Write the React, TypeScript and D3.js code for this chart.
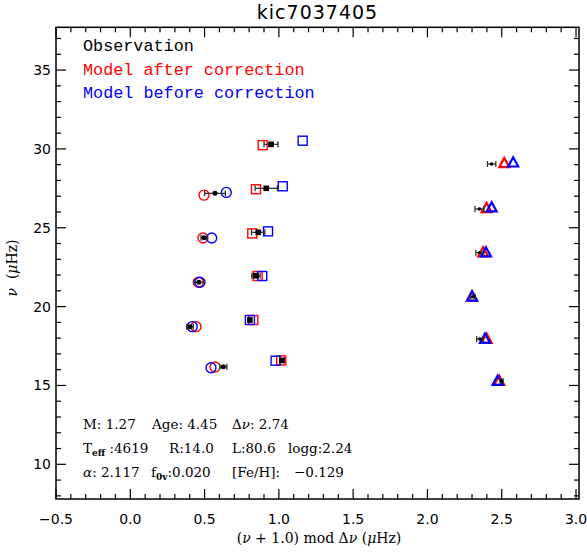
import React from "react";
import * as d3 from "d3";

// ---- data ----
const obsCircX = [0.570, 0.496, 0.462, 0.402, 0.626];
const obsCircY = [27.18, 24.37, 21.54, 18.73, 16.19];
const obsCircErr = [0.07, 0.02, 0.034, 0.022, 0.024];
const afterCircX = [0.496, 0.489, 0.458, 0.442, 0.570];
const afterCircY = [27.07, 24.35, 21.54, 18.73, 16.17];
const beforeCircX = [0.646, 0.548, 0.469, 0.417, 0.543];
const beforeCircY = [27.24, 24.35, 21.54, 18.73, 16.12];

const obsSqX = [0.947, 0.915, 0.861, 0.846, 0.805, 1.021];
const obsSqY = [30.29, 27.50, 24.71, 21.96, 19.15, 16.59];
const obsSqErr = [0.047, 0.075, 0.045, 0.028, 0.01, 0.015];
const afterSqX = [0.891, 0.846, 0.821, 0.857, 0.828, 1.016];
const afterSqY = [30.24, 27.44, 24.64, 21.94, 19.15, 16.59];
const beforeSqX = [1.160, 1.026, 0.927, 0.888, 0.805, 0.978];
const beforeSqY = [30.52, 27.63, 24.77, 21.94, 19.15, 16.57];

const obsTriX = [2.432, 2.350, 2.353, 2.306, 2.353, 2.499];
const obsTriY = [29.04, 26.19, 23.42, 20.62, 17.94, 15.28];
const obsTriErr = [0.028, 0.03, 0.027, 0.015, 0.022, 0.01];
const afterTriX = [2.517, 2.398, 2.375, 2.299, 2.398, 2.483];
const afterTriY = [29.08, 26.23, 23.42, 20.62, 17.94, 15.28];
const beforeTriX = [2.577, 2.432, 2.394, 2.301, 2.387, 2.472];
const beforeTriY = [29.12, 26.27, 23.42, 20.62, 17.94, 15.28];

const xMajorTicks = [-0.5, 0.0, 0.5, 1.0, 1.5, 2.0, 2.5, 3.0];
const xTickLabels = ["\u22120.5", "0.0", "0.5", "1.0", "1.5", "2.0", "2.5", "3.0"];
const yMajorTicks = [10, 15, 20, 25, 30, 35];
const yTickLabels = ["10", "15", "20", "25", "30", "35"];

const legendLabels = ["Observation", "Model after correction", "Model before correction"];
const legendColors = ["#000", "#ff0000", "#0000ff"];

const W = 587, H = 552;
const L = 56, R = 579, T = 27.3, B = 499;

export default function App() {
  const x = d3.scaleLinear().domain([-0.5, 3.02]).range([L, R]);
  const y = d3.scaleLinear().domain([7.8, 37.71]).range([B, T]);

  const xMinor = d3.range(-5, 31).map((i) => i / 10).filter((v) => !xMajorTicks.some((m) => Math.abs(m - v) < 1e-6));
  const yMinor = d3.range(8, 38).filter((v) => v % 5 !== 0);

  const red = "#ff0000", blue = "#0000ff";
  const tri = (cx: number, cy: number) => {
    const s = 5;
    return d3.line()([[cx, cy - s * 1.1], [cx + s, cy + s * 0.75], [cx - s, cy + s * 0.75]]) + "Z";
  };
  const errBar = (xs: number[], ys: number[], es: number[], key: string) =>
    xs.map((v, i) => {
      const x0 = x(v - es[i]), x1 = x(v + es[i]), yy = y(ys[i]);
      return (
        <g key={key + i} stroke="#333" strokeWidth={1.3}>
          <line x1={x0} x2={x1} y1={yy} y2={yy} />
          <line x1={x0} x2={x0} y1={yy - 3} y2={yy + 3} />
          <line x1={x1} x2={x1} y1={yy - 3} y2={yy + 3} />
        </g>
      );
    });

  const serif = "DejaVu Serif";
  const tickFont = "DejaVu Sans";

  return (
    <svg width={W} height={H} style={{ position: "absolute", left: 0, top: 0, background: "#fff" }}>
      <rect x={0} y={0} width={W} height={H} fill="#fff" />
      {/* title */}
      <text x={(L + R) / 2} y={19} textAnchor="middle" fontFamily={tickFont} fontSize={19} letterSpacing={1}>
        kic7037405
      </text>

      {/* frame */}
      <rect x={L} y={T} width={R - L} height={B - T} fill="none" stroke="#000" strokeWidth={1.5} />

      {/* ticks */}
      <g stroke="#000" strokeWidth={1.2}>
        {xMajorTicks.map((v) => (
          <g key={"xm" + v}>
            <line x1={x(v)} x2={x(v)} y1={B} y2={B - 10} />
            <line x1={x(v)} x2={x(v)} y1={T} y2={T + 10} />
          </g>
        ))}
        {xMinor.map((v) => (
          <g key={"xn" + v}>
            <line x1={x(v)} x2={x(v)} y1={B} y2={B - 5} />
            <line x1={x(v)} x2={x(v)} y1={T} y2={T + 5} />
          </g>
        ))}
        {yMajorTicks.map((v) => (
          <g key={"ym" + v}>
            <line x1={L} x2={L + 10} y1={y(v)} y2={y(v)} />
            <line x1={R} x2={R - 10} y1={y(v)} y2={y(v)} />
          </g>
        ))}
        {yMinor.map((v) => (
          <g key={"yn" + v}>
            <line x1={L} x2={L + 5} y1={y(v)} y2={y(v)} />
            <line x1={R} x2={R - 5} y1={y(v)} y2={y(v)} />
          </g>
        ))}
      </g>

      {/* tick labels */}
      <g fontFamily={tickFont} fontSize={14}>
        {xMajorTicks.map((v, i) => (
          <text key={"xl" + v} x={x(v)} y={524} textAnchor="middle">{xTickLabels[i]}</text>
        ))}
        {yMajorTicks.map((v, i) => (
          <text key={"yl" + v} x={51} y={y(v) + 5} textAnchor="end">{yTickLabels[i]}</text>
        ))}
      </g>

      {/* axis labels */}
      <text x={319} y={543} textAnchor="middle" fontFamily={serif} fontSize={14}>
        (<tspan fontStyle="italic">ν</tspan> + 1.0) mod Δ<tspan fontStyle="italic">ν</tspan> (<tspan fontStyle="italic">μ</tspan>Hz)
      </text>
      <text transform={`translate(17,268) rotate(-90)`} textAnchor="middle" fontFamily={serif} fontSize={14}>
        <tspan fontStyle="italic">ν</tspan>{"\u00a0\u00a0"}(<tspan fontStyle="italic">μ</tspan>Hz)
      </text>

      {/* legend */}
      <g fontFamily="Liberation Mono" fontSize={16.8}>
        {legendLabels.map((t, i) => (
          <text key={t} x={83} y={51 + i * 23.5} fill={legendColors[i]}>{t}</text>
        ))}
      </g>

      {/* model after (red) */}
      <g fill="none" stroke={red} strokeWidth={1.4}>
        {afterCircX.map((v, i) => <circle key={"ac" + i} cx={x(v)} cy={y(afterCircY[i])} r={5} />)}
        {afterSqX.map((v, i) => <rect key={"as" + i} x={x(v) - 4.5} y={y(afterSqY[i]) - 4.5} width={9} height={9} />)}
        {afterTriX.map((v, i) => <path key={"at" + i} d={tri(x(v), y(afterTriY[i]))} strokeWidth={2.2} />)}
      </g>
      {/* model before (blue) */}
      <g fill="none" stroke={blue} strokeWidth={1.4}>
        {beforeCircX.map((v, i) => <circle key={"bc" + i} cx={x(v)} cy={y(beforeCircY[i])} r={5} />)}
        {beforeSqX.map((v, i) => <rect key={"bs" + i} x={x(v) - 4.5} y={y(beforeSqY[i]) - 4.5} width={9} height={9} />)}
        {beforeTriX.map((v, i) => <path key={"bt" + i} d={tri(x(v), y(beforeTriY[i]))} strokeWidth={2.2} />)}
      </g>

      {/* observations */}
      {errBar(obsCircX, obsCircY, obsCircErr, "ec")}
      {errBar(obsSqX, obsSqY, obsSqErr, "es")}
      {errBar(obsTriX, obsTriY, obsTriErr, "et")}
      <g fill="#000">
        {obsCircX.map((v, i) => <circle key={"oc" + i} cx={x(v)} cy={y(obsCircY[i])} r={2.5} />)}
        {obsSqX.map((v, i) => <rect key={"os" + i} x={x(v) - 2.8} y={y(obsSqY[i]) - 2.8} width={5.6} height={5.6} />)}
        {obsTriX.map((v, i) => <circle key={"ot" + i} cx={x(v)} cy={y(obsTriY[i])} r={1.8} />)}
      </g>

      {/* parameter text */}
      <g fontFamily={serif} fontSize={13.5}>
        <text x={83} y={429}>M: 1.27</text>
        <text x={152} y={429}>Age: 4.45</text>
        <text x={232} y={429}>Δ<tspan fontStyle="italic">ν</tspan>: 2.74</text>

        <text x={83} y={453}>T<tspan fontSize={9} fontWeight="bold" dy={3}>eff</tspan><tspan dy={-3}> :4619</tspan></text>
        <text x={169} y={453}>R:14.0</text>
        <text x={232} y={453}>L:80.6</text>
        <text x={288} y={453}>logg:2.24</text>

        <text x={83} y={477}><tspan fontStyle="italic">α</tspan>: 2.117</text>
        <text x={151} y={477}>f<tspan fontSize={9} fontWeight="bold" dy={3}>0v</tspan><tspan dy={-3}>:0.020</tspan></text>
        <text x={232} y={477}>[Fe/H]:</text>
        <text x={294} y={477}>−0.129</text>
      </g>
    </svg>
  );
}
